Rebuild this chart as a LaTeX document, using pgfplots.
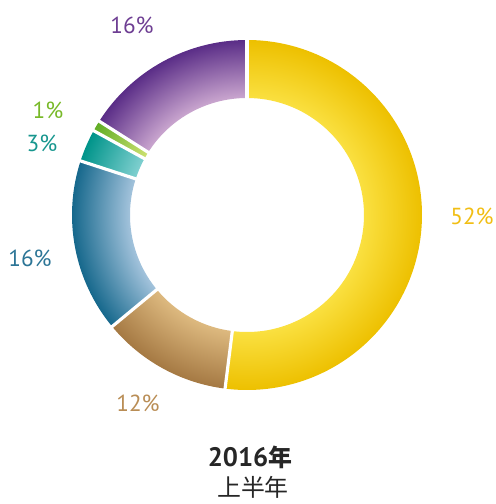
\documentclass[border=0pt]{standalone}
\usepackage{pgfplots}
\pgfplotsset{compat=1.18}
\usepackage{fontspec}
\setmainfont{PT Sans}
\newfontfamily\cjk{Noto Sans CJK SC}

% segment colours (inner = light, outer = dark)
\definecolor{yelIn}{HTML}{FAE040}
\definecolor{yelOut}{HTML}{EDC000}
\definecolor{tanIn}{HTML}{DDB97F}
\definecolor{tanOut}{HTML}{A57943}
\definecolor{bluIn}{HTML}{A3C3DC}
\definecolor{bluOut}{HTML}{16688C}
\definecolor{teaIn}{HTML}{80D0D0}
\definecolor{teaOut}{HTML}{00948A}
\definecolor{greIn}{HTML}{CCE070}
\definecolor{greOut}{HTML}{62AE26}
\definecolor{purIn}{HTML}{CAA6CF}
\definecolor{purOut}{HTML}{5A2D87}
% label colours
\definecolor{labYel}{HTML}{F1BE14}
\definecolor{labTan}{HTML}{B98D55}
\definecolor{labBlu}{HTML}{2C7596}
\definecolor{labTea}{HTML}{17968E}
\definecolor{labGre}{HTML}{78B928}
\definecolor{labPur}{HTML}{6E3E93}

% ring: inner radius 1.17 of outer 1.75 -> 16.7bp of 25bp
\pgfdeclareradialshading{shYel}{\pgfpoint{0bp}{0bp}}{color(0bp)=(yelIn); color(16.7bp)=(yelIn); color(25bp)=(yelOut); color(50bp)=(yelOut)}
\pgfdeclareradialshading{shTan}{\pgfpoint{0bp}{0bp}}{color(0bp)=(tanIn); color(16.7bp)=(tanIn); color(25bp)=(tanOut); color(50bp)=(tanOut)}
\pgfdeclareradialshading{shBlu}{\pgfpoint{0bp}{0bp}}{color(0bp)=(bluIn); color(16.7bp)=(bluIn); color(25bp)=(bluOut); color(50bp)=(bluOut)}
\pgfdeclareradialshading{shTea}{\pgfpoint{0bp}{0bp}}{color(0bp)=(teaIn); color(16.7bp)=(teaIn); color(25bp)=(teaOut); color(50bp)=(teaOut)}
\pgfdeclareradialshading{shGre}{\pgfpoint{0bp}{0bp}}{color(0bp)=(greIn); color(16.7bp)=(greIn); color(25bp)=(greOut); color(50bp)=(greOut)}
\pgfdeclareradialshading{shPur}{\pgfpoint{0bp}{0bp}}{color(0bp)=(purIn); color(16.7bp)=(purIn); color(25bp)=(purOut); color(50bp)=(purOut)}

% shares (%), clockwise from the top
\def\vYel{52}\def\vTan{12}\def\vBlu{16}\def\vTea{3}\def\vGre{1}\def\vPur{16}
\pgfmathsetmacro\aA{90}
\pgfmathsetmacro\aB{\aA-3.6*\vYel}
\pgfmathsetmacro\aC{\aB-3.6*\vTan}
\pgfmathsetmacro\aD{\aC-3.6*\vBlu}
\pgfmathsetmacro\aE{\aD-3.6*\vTea}
\pgfmathsetmacro\aF{\aE-3.6*\vGre}
\pgfmathsetmacro\aG{\aF-3.6*\vPur}

\def\cx{2.47}\def\cy{2.89}\def\Ro{1.75}\def\Ri{1.17}
\newcommand{\seg}[3]{%
  \begin{scope}
    \clip (axis cs:{\cx+\Ro*cos(#1)},{\cy+\Ro*sin(#1)})
      arc[start angle=#1,end angle=#2,radius=\Ro]
      -- (axis cs:{\cx+\Ri*cos(#2)},{\cy+\Ri*sin(#2)})
      arc[start angle=#2,end angle=#1,radius=\Ri] -- cycle;
    \shade[shading=#3] (axis cs:\cx,\cy) circle[radius=\Ro];
  \end{scope}}

\begin{document}
\begin{tikzpicture}
\begin{axis}[
    x=1cm, y=1cm,
    xmin=0, xmax=4.96, ymin=0, ymax=5.04,
    hide axis, clip=false,
]
\path (axis cs:0,0) rectangle (axis cs:4.96,5.04);

\seg{\aA}{\aB}{shYel}
\seg{\aB}{\aC}{shTan}
\seg{\aC}{\aD}{shBlu}
\seg{\aD}{\aE}{shTea}
\seg{\aE}{\aF}{shGre}
\seg{\aF}{\aG}{shPur}

% white gaps between segments
\pgfplotsinvokeforeach{\aA,\aB,\aC,\aD,\aE,\aF}{
  \draw[white, line width=0.9pt]
    (axis cs:{\cx+1.14*cos(#1)},{\cy+1.14*sin(#1)}) --
    (axis cs:{\cx+1.78*cos(#1)},{\cy+1.78*sin(#1)});
}

\begin{scope}[every node/.style={font=\fontsize{6.6}{7}\selectfont, inner sep=0pt}]
\node[text=labYel] at (axis cs:4.72,2.88) {52\%};
\node[text=labTan] at (axis cs:1.38,1.01) {12\%};
\node[text=labBlu] at (axis cs:0.30,2.46) {16\%};
\node[text=labTea] at (axis cs:0.42,3.61) {3\%};
\node[text=labGre] at (axis cs:0.48,3.94) {1\%};
\node[text=labPur] at (axis cs:1.32,4.79) {16\%};
\end{scope}

\node[inner sep=0pt, text=black!85] at (axis cs:2.50,0.47)
  {{\fontsize{7.6}{8}\selectfont\bfseries 2016}{\cjk\fontsize{6.8}{8}\selectfont\bfseries 年}};
\node[inner sep=0pt, text=black!85] at (axis cs:2.53,0.17)
  {\cjk\fontsize{6.8}{8}\selectfont 上半年};
\end{axis}
\end{tikzpicture}
\end{document}
